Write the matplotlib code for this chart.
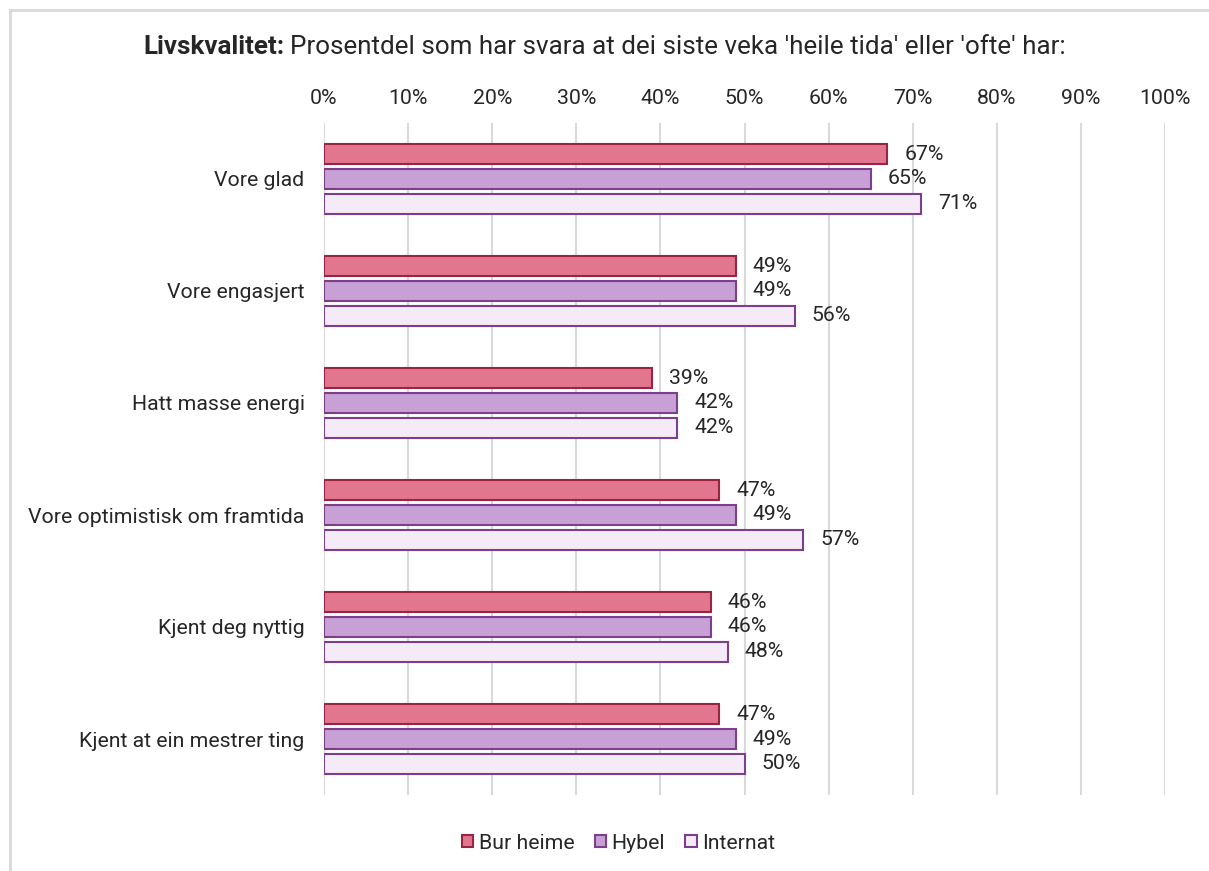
import numpy as np
import matplotlib.pyplot as plt

plt.rcParams['font.family'] = ['Roboto', 'DejaVu Sans']

categories = ["Vore glad", "Vore engasjert", "Hatt masse energi",
              "Vore optimistisk om framtida", "Kjent deg nyttig",
              "Kjent at ein mestrer ting"]
bur_heime = [67, 49, 39, 47, 46, 47]
hybel = [65, 49, 42, 49, 46, 49]
internat = [71, 56, 42, 57, 48, 50]
series = ["Bur heime", "Hybel", "Internat"]

fills = ["#E3768F", "#C9A0D6", "#F5EBF8"]
edges = ["#9B2343", "#7B3F8C", "#7B3F8C"]
txt = "#262626"

fig = plt.figure(figsize=(12.09, 8.71), dpi=100)
ax = fig.add_axes([324/1209, 1-795/871, (1165-324)/1209, (795-123)/871])

y = np.arange(len(categories))
h = 0.18
off = 0.22
for i, vals in enumerate([bur_heime, hybel, internat]):
    pos = y + (i - 1) * off
    ax.barh(pos, vals, height=h, color=fills[i], edgecolor=edges[i],
            linewidth=1.5, label=series[i], zorder=3)
    for p, v in zip(pos, vals):
        ax.text(v + 2.0, p, f"{v}%", va="center", ha="left",
                fontsize=15.3, color=txt)

ax.set_xlim(0, 100)
ax.set_ylim(len(categories) - 0.5, -0.5)
ax.set_xticks(range(0, 101, 10))
ax.set_xticklabels([f"{t}%" for t in range(0, 101, 10)])
ax.xaxis.tick_top()
ax.set_yticks(y)
ax.set_yticklabels(categories)
ax.tick_params(length=0, labelsize=15.3, labelcolor=txt)
ax.tick_params(axis="x", pad=11)
ax.tick_params(axis="y", pad=14)
ax.grid(axis="x", color="#D9D9D9", linewidth=1.5, zorder=0)
for s in ax.spines.values():
    s.set_visible(False)

t1 = fig.text(143/1209, 1-47/871, "Livskvalitet:", fontweight="bold",
              fontsize=18.7, color=txt, va="center", ha="left")
fig.canvas.draw()
bb = t1.get_window_extent()
fig.text(bb.x1 / 1209 + 6/1209, 1-47/871,
         "Prosentdel som har svara at dei siste veka 'heile tida' eller 'ofte' har:",
         fontsize=18.7, color=txt, va="center", ha="left")

leg = fig.legend(loc="center", bbox_to_anchor=(0.5116, 1-843/871), ncol=3,
                 frameon=False, fontsize=15.3, handlelength=0.55, handleheight=0.55,
                 handletextpad=0.25, columnspacing=0.95)
for t in leg.get_texts():
    t.set_color(txt)

# outer border
fig.add_artist(plt.Line2D([10/1209, 1], [1-10/871, 1-10/871], color="#D9D9D9", linewidth=2))
fig.add_artist(plt.Line2D([10/1209, 10/1209], [0, 1-10/871], color="#D9D9D9", linewidth=2))

fig.savefig("out.png", dpi=100)
